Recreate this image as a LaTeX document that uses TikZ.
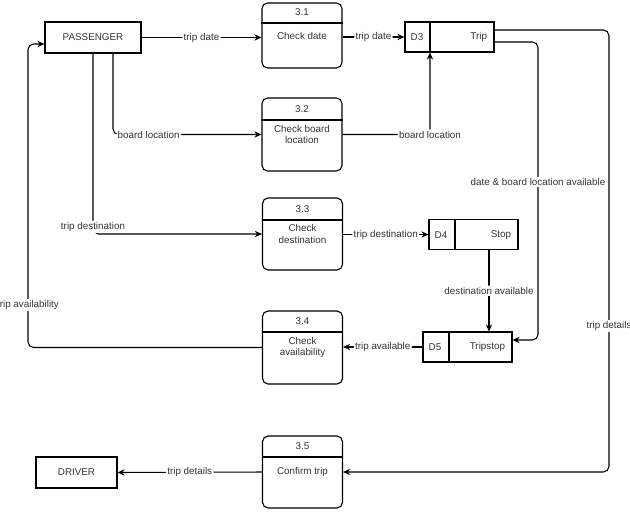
\documentclass[tikz,border=0pt]{standalone}
\usepackage{fontspec}
\setmainfont{Liberation Sans}
\usetikzlibrary{arrows.meta}
\begin{document}
\begin{tikzpicture}[x=0.025cm,y=-0.025cm,font=\fontsize{7}{8.2}\selectfont,text=black!80]
\tikzstyle{ent} = [draw,line width=0.8pt,minimum height=0.775cm] %external entity
\tikzstyle{pr} = [draw,line width=0.8pt,rounded corners=4pt,minimum width=2cm,align=center] %process
\tikzstyle{st} = [draw,line width=0.8pt,minimum height=0.75cm,minimum width=2.225cm] %data store
\tikzstyle{fl} = [-{Stealth[length=5pt,width=4.5pt]},line width=0.75pt,rounded corners=4pt] %flow
\tikzstyle{lb} = [fill=white,inner sep=1pt] %flow label
\useasboundingbox (0,0) rectangle (630,526);
% entities
\node[ent,minimum width=2.4cm](pas)at(93,37.5){PASSENGER};
\node[ent,minimum width=2.025cm](drv)at(76.5,472.5){DRIVER};
% processes
\node[pr,minimum height=1.625cm](p31)at(302,35.5){Check date};
\node[pr,minimum height=1.825cm](p32)at(302,134.5){Check board\\location};
\node[pr,minimum height=1.8cm](p33)at(302.5,234){Check\\destination};
\node[pr,minimum height=1.825cm](p34)at(302.5,347.5){Check\\availability};
\node[pr,minimum height=1.8cm](p35)at(302.5,472){Confirm trip};
\node(n31)at(302,12){3.1};
\node(n32)at(302,109){3.2};
\node(n33)at(302.5,209){3.3};
\node(n34)at(302.5,321){3.4};
\node(n35)at(302.5,446){3.5};
\draw[line width=0.8pt](p31.west|-0,23)--(p31.east|-0,23);
\draw[line width=0.8pt](p32.west|-0,120)--(p32.east|-0,120);
\draw[line width=0.8pt](p33.west|-0,220)--(p33.east|-0,220);
\draw[line width=0.8pt](p34.west|-0,332)--(p34.east|-0,332);
\draw[line width=0.8pt](p35.west|-0,457)--(p35.east|-0,457);
% data stores
\node[st](d3)at(449.5,37){};
\node[st](d4)at(473.5,234.5){};
\node[st](d5)at(467.5,347){};
\draw[line width=0.8pt](430,0|-d3.north)--(430,0|-d3.south);
\draw[line width=0.8pt](455,0|-d4.north)--(455,0|-d4.south);
\draw[line width=0.8pt](449,0|-d5.north)--(449,0|-d5.south);
\node(d3a)at(417,37){D3};
\node[anchor=east](d3b)at(492,37){Trip};
\node(d4a)at(441,235){D4};
\node[anchor=east](d4b)at(516,235){Stop};
\node(d5a)at(435,347){D5};
\node[anchor=east](d5b)at(510,347){Tripstop};
% flows
\draw[fl](pas.east)--node[lb]{trip date}(pas.east-|p31.west);
\draw[fl](p31.east|-0,37)--node[lb]{trip date}(d3.west|-0,37);
\draw[fl](pas.south-|113,0)|-node[lb,pos=0.62]{board location}(p32.west);
\draw[fl](p32.east)-|node[lb,pos=0.5]{board location}(d3.south-|430,0);
\draw[fl](pas.south-|93,0)|-node[lb,pos=0.48]{trip destination}(p33.west);
\draw[fl](p33.east|-d4.west)--node[lb]{trip destination}(d4.west);
\draw[fl](d4.south-|489,0)--node[lb]{destination available}(d5.north-|489,0);
\draw[fl](d3.east|-0,42)--(538,42)--node[lb,pos=0.47]{date \& board location available}(538,340)--(d5.east|-0,340);
\draw[fl](d3.east|-0,30)--(609,30)--node[lb,pos=0.67]{trip details}(609,0|-p35.east)--(p35.east);
\draw[fl](d5.west)--node[lb]{trip available}(p34.east|-d5.west);
\draw[fl](p34.west)--(28,0|-p34.west)--node[lb,pos=0.14]{trip availability}(28,44)--(pas.west|-0,44);
\draw[fl](p35.west)--node[lb]{trip details}(drv.east);
\end{tikzpicture}
\end{document}
